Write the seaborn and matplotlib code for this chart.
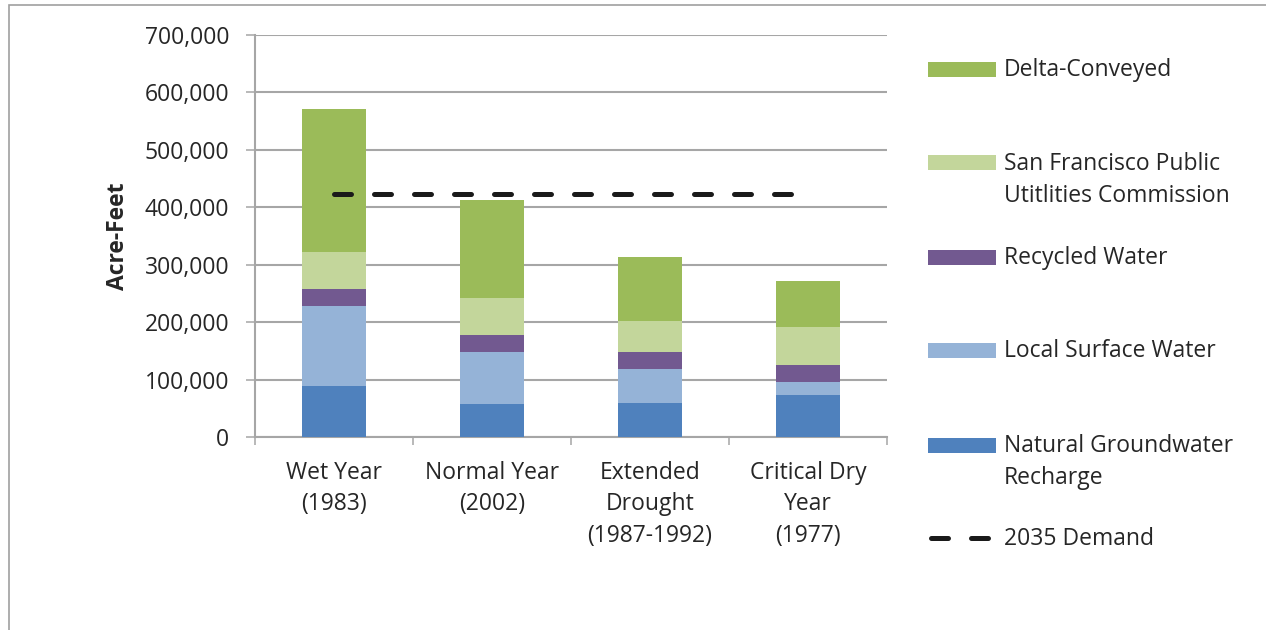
import matplotlib
matplotlib.use("Agg")
import matplotlib.pyplot as plt
import seaborn as sns
import numpy as np
import pandas as pd
from matplotlib.patches import Rectangle
from matplotlib.lines import Line2D

# ---- data ----
categories = ["Wet Year\n(1983)", "Normal Year\n(2002)", "Extended\nDrought\n(1987-1992)", "Critical Dry\nYear\n(1977)"]
natural_groundwater = [88000, 58000, 59000, 73000]
local_surface = [140000, 90000, 59000, 23000]
recycled = [29000, 30000, 30000, 30000]
sfpuc = [65000, 64000, 54000, 65000]
delta = [250000, 171000, 112000, 80000]
demand_2035 = [423000, 423000, 423000, 423000]

series_names = ["Natural Groundwater\nRecharge", "Local Surface Water", "Recycled Water",
                "San Francisco Public\nUtitlities Commission", "Delta-Conveyed"]
series_vals = [natural_groundwater, local_surface, recycled, sfpuc, delta]
colors = ["#4F81BD", "#95B3D7", "#725990", "#C3D69B", "#9BBB59"]

FONT = "Open Sans"
TXT = "#262626"
GRID = "#A6A6A6"
FS = 16.5

sns.set_theme(style="white")
plt.rcParams["font.family"] = [FONT, "DejaVu Sans"]

W, H = 1266, 630
fig = plt.figure(figsize=(W / 100, H / 100), dpi=100)
ax = fig.add_axes([255 / W, 1 - 437 / H, (887 - 255) / W, (437 - 35) / H])

cum = np.cumsum(np.array(series_vals), axis=0)
for i in range(len(series_vals) - 1, -1, -1):
    df = pd.DataFrame({"cat": categories, "val": cum[i]})
    sns.barplot(data=df, x="cat", y="val", color=colors[i], width=0.4,
                saturation=1, ax=ax, zorder=3, edgecolor="none", linewidth=0)

sns.lineplot(x=np.arange(len(categories)), y=demand_2035, ax=ax, color="#1a1a1a",
             lw=3.6, zorder=4, dashes=False)
ln = ax.lines[-1]
ln.set_dashes((3.4, 4.6))
ln.set_dash_capstyle("round")

ax.set_xlim(-0.5, len(categories) - 0.5)
ax.set_ylim(0, 700000)
ax.set_yticks(np.arange(0, 700001, 100000))
ax.set_yticklabels([f"{v:,}" for v in range(0, 700001, 100000)])
ax.yaxis.grid(True, color=GRID, lw=1.5, zorder=0)
ax.set_axisbelow(True)
for s in ["top", "right"]:
    ax.spines[s].set_visible(False)
for s in ["left", "bottom"]:
    ax.spines[s].set_color(GRID)
    ax.spines[s].set_linewidth(1.5)
ax.tick_params(axis="y", left=True, length=6.5, width=1.1, color=GRID, pad=12,
               labelsize=FS, labelcolor=TXT)
ax.tick_params(axis="x", which="major", length=0, pad=17, labelsize=FS, labelcolor=TXT)
ax.set_xticks(np.arange(-0.5, len(categories), 1.0), minor=True)
ax.tick_params(axis="x", which="minor", bottom=True, length=6, width=1.1, color=GRID)
for t in ax.get_xticklabels():
    t.set_linespacing(1.42)
    t.set_verticalalignment("top")
ax.set_xlabel("")
ax.set_ylabel("Acre-Feet", fontsize=FS, fontweight="bold", color=TXT)
ax.yaxis.set_label_coords(-0.197, 0.5)

# ---- legend (manual) ----
ys = [69.5, 163, 257, 350, 445]
order = [4, 3, 2, 1, 0]
for y, idx in zip(ys, order):
    fig.patches.append(Rectangle((928 / W, 1 - (y + 7.5) / H), 68 / W, 15 / H,
                                 transform=fig.transFigure, facecolor=colors[idx],
                                 edgecolor="none"))
    lines = series_names[idx].split("\n")
    for k, txt in enumerate(lines):
        yy = y + 7 + 32 * k
        fig.text(1004 / W, 1 - yy / H, txt, fontsize=FS, color=TXT, va="baseline", ha="left")
fig.lines.append(Line2D([931 / W, 990 / W], [1 - 538 / H] * 2, transform=fig.transFigure,
                        color="#1a1a1a", lw=3.6, dashes=(3.4, 4.6), dash_capstyle="round"))
fig.text(1004 / W, 1 - 545 / H, "2035 Demand", fontsize=FS, color=TXT, va="baseline", ha="left")

# ---- outer frame ----
fig.patches.append(Rectangle((9 / W, -0.1), 1.2, 1 - 5 / H + 0.1, transform=fig.transFigure,
                             facecolor="none", edgecolor="#A0A0A0", lw=1.2))

fig.savefig("out.png", dpi=100)
